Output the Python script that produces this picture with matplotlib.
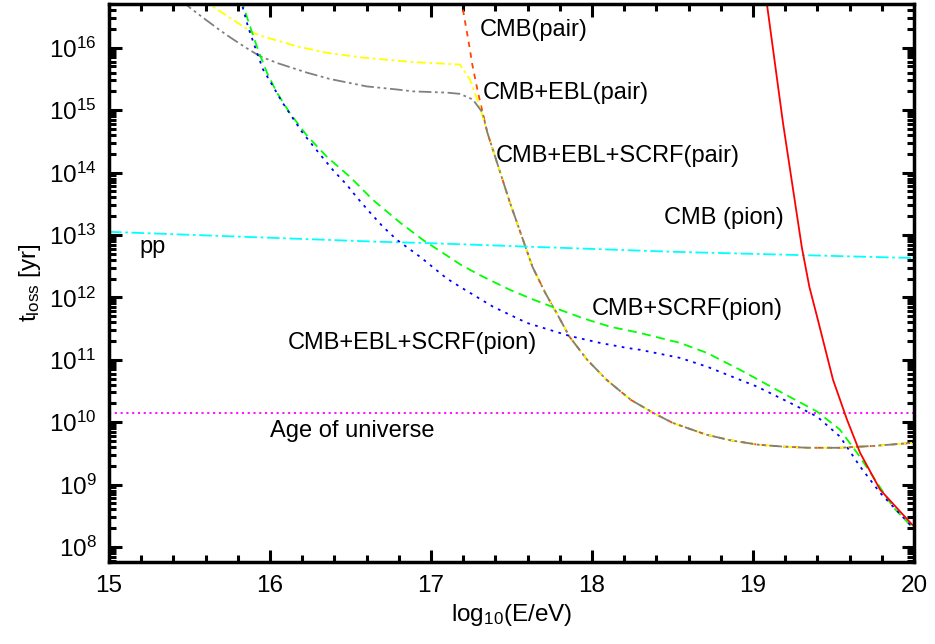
import numpy as np
import matplotlib
matplotlib.use("Agg")
import matplotlib.pyplot as plt
from matplotlib.ticker import LogLocator, MultipleLocator, NullFormatter

plt.rcParams['font.family'] = ['Liberation Sans', 'DejaVu Sans']
plt.rcParams['mathtext.fontset'] = 'custom'
plt.rcParams['mathtext.rm'] = 'Liberation Sans'
plt.rcParams['mathtext.it'] = 'Liberation Sans:italic'

# energy loss times: x = log10(E/eV), y = log10(t_loss/yr)
# common tail of the three pair-production curves (CMB dominated above ~10^17.3 eV)
pair_tail_x = [17.35, 17.43, 17.49, 17.55, 17.63, 17.71, 17.78, 17.86, 17.97, 18.09, 18.24,
               18.38, 18.50, 18.71, 18.86, 19.03, 19.18, 19.34, 19.54, 19.75, 20.0]
pair_tail_y = [14.64, 14.00, 13.52, 13.08, 12.49, 12.07, 11.75, 11.37, 11.00, 10.68, 10.36,
               10.15, 9.99, 9.80, 9.71, 9.64, 9.61, 9.59, 9.59, 9.62, 9.67]

cmb_pair_x = [17.17, 17.193, 17.242, 17.255, 17.292] + pair_tail_x
cmb_pair_y = [17.10, 16.69, 15.97, 15.75, 15.28] + pair_tail_y

ebl_pair_x = [15.55, 15.627, 15.75, 15.894, 15.957, 16.17, 16.35, 16.58, 16.89, 17.18,
              17.242, 17.304] + pair_tail_x
ebl_pair_y = [16.85, 16.69, 16.48, 16.24, 16.18, 16.02, 15.92, 15.84, 15.77, 15.73,
              15.49, 15.05] + pair_tail_y

scrf_pair_x = [15.45, 15.503, 15.60, 15.689, 15.75, 15.85, 15.94, 16.05, 16.23, 16.37,
               16.60, 16.79, 16.89, 17.10, 17.18, 17.26, 17.32] + pair_tail_x
scrf_pair_y = [16.76, 16.64, 16.45, 16.28, 16.17, 16.00, 15.86, 15.75, 15.60, 15.50,
               15.38, 15.33, 15.30, 15.28, 15.26, 15.17, 14.96] + pair_tail_y

scrf_pion_x = [15.80, 15.832, 15.876, 15.925, 15.981, 16.043, 16.124, 16.23, 16.354, 16.497,
               16.64, 16.807, 16.95, 17.075, 17.18, 17.30, 17.491, 17.63, 17.801, 17.95,
               18.112, 18.298, 18.547, 18.714, 18.919, 19.168, 19.398, 19.54, 19.646,
               19.745, 19.87, 19.988]
scrf_pion_y = [17.00, 16.69, 16.34, 15.97, 15.60, 15.28, 14.95, 14.59, 14.25, 13.93,
               13.56, 13.20, 12.92, 12.71, 12.53, 12.36, 12.12, 11.97, 11.80, 11.66,
               11.53, 11.43, 11.27, 11.11, 10.84, 10.49, 10.17, 9.88, 9.51,
               9.13, 8.64, 8.32]

ebl_scrf_pion_x = [15.79, 15.826, 15.863, 15.919, 15.957, 16.019, 16.075, 16.137, 16.199,
                   16.248, 16.311, 16.391, 16.478, 16.54, 16.621, 16.702, 16.789, 16.932,
                   17.099, 17.18, 17.385, 17.596, 17.863, 18.05, 18.217, 18.298, 18.547,
                   18.714, 19.025, 19.23, 19.398, 19.54, 19.665, 19.789, 19.975, 20.0]
ebl_scrf_pion_y = [17.00, 16.69, 16.34, 15.92, 15.65, 15.38, 15.13, 14.89, 14.65,
                   14.49, 14.29, 14.04, 13.80, 13.60, 13.36, 13.13, 12.92, 12.65,
                   12.30, 12.17, 11.85, 11.59, 11.38, 11.27, 11.19, 11.16, 11.03,
                   10.89, 10.57, 10.31, 10.09, 9.77, 9.29, 8.87, 8.36, 8.31]

cmb_pion_x = [19.06, 19.087, 19.186, 19.304, 19.35, 19.398, 19.497, 19.584, 19.665,
              19.789, 19.988, 20.0]
cmb_pion_y = [17.10, 16.69, 14.80, 12.79, 12.17, 11.69, 10.68, 10.04, 9.51,
              8.92, 8.36, 8.34]

pp_x = [15.0, 16.683, 16.975, 18.503, 20.0]
pp_y = [13.05, 12.89, 12.87, 12.73, 12.63]

age_universe = 1.4e10

labels = ["CMB(pair)", "CMB+EBL(pair)", "CMB+EBL+SCRF(pair)", "CMB (pion)", "pp",
          "CMB+SCRF(pion)", "CMB+EBL+SCRF(pion)", "Age of universe"]
label_x = [17.30, 17.32, 17.40, 18.45, 15.19, 18.00, 16.11, 16.00]
label_y = [16.18, 15.17, 14.17, 13.18, 12.71, 11.72, 11.18, 9.77]

fig = plt.figure(figsize=(9.35, 6.44), dpi=100)
ax = fig.add_axes([109 / 935, 82 / 644, 805 / 935, 558 / 644])

lw = 1.3
ax.plot(cmb_pair_x, 10 ** np.array(cmb_pair_y), color='#ff4500', lw=lw, dashes=(3, 3))
ax.plot(ebl_pair_x, 10 ** np.array(ebl_pair_y), color='#ffff00', lw=lw, dashes=(5, 2, 1.5, 2))
ax.plot(scrf_pair_x, 10 ** np.array(scrf_pair_y), color='#808080', lw=lw,
        dashes=(7, 2, 1.5, 2, 1.5, 2))
ax.plot(pp_x, 10 ** np.array(pp_y), color='#00ffff', lw=lw, dashes=(7, 2, 1.5, 2))
ax.axhline(age_universe, color='#ff00ff', lw=lw, dashes=(1.2, 2))
ax.plot(scrf_pion_x, 10 ** np.array(scrf_pion_y), color='#00ff00', lw=lw, dashes=(5, 3))
ax.plot(ebl_scrf_pion_x, 10 ** np.array(ebl_scrf_pion_y), color='#0000ff', lw=lw,
        dashes=(1.5, 3))
ax.plot(cmb_pion_x, 10 ** np.array(cmb_pion_y), color='#ff0000', lw=lw)

for txt, lx, ly in zip(labels, label_x, label_y):
    ax.text(lx, 10 ** ly, txt, fontsize=17, va='baseline', ha='left')

ax.set_yscale('log')
ax.set_xlim(15, 20)
ax.set_ylim(10 ** 7.76, 10 ** 16.70)

ax.xaxis.set_major_locator(MultipleLocator(1))
ax.xaxis.set_minor_locator(MultipleLocator(0.2))
ax.yaxis.set_major_locator(LogLocator(base=10, numticks=20))
ax.yaxis.set_minor_locator(LogLocator(base=10, subs=np.arange(2, 10), numticks=100))
ax.yaxis.set_minor_formatter(NullFormatter())

ax.tick_params(which='both', direction='in', top=True, right=True, width=2.2,
               labelsize=17.5)
ax.tick_params(which='major', length=9, pad=9)
ax.tick_params(which='minor', length=5)
for sp in ax.spines.values():
    sp.set_linewidth(2.5)

ax.set_xlabel(r'log$_{10}$(E/eV)', fontsize=17.5, labelpad=4)
ax.set_ylabel(r't$_{\mathrm{loss}}$ [yr]', fontsize=17.5, labelpad=4)

fig.savefig('out.png', dpi=100)
